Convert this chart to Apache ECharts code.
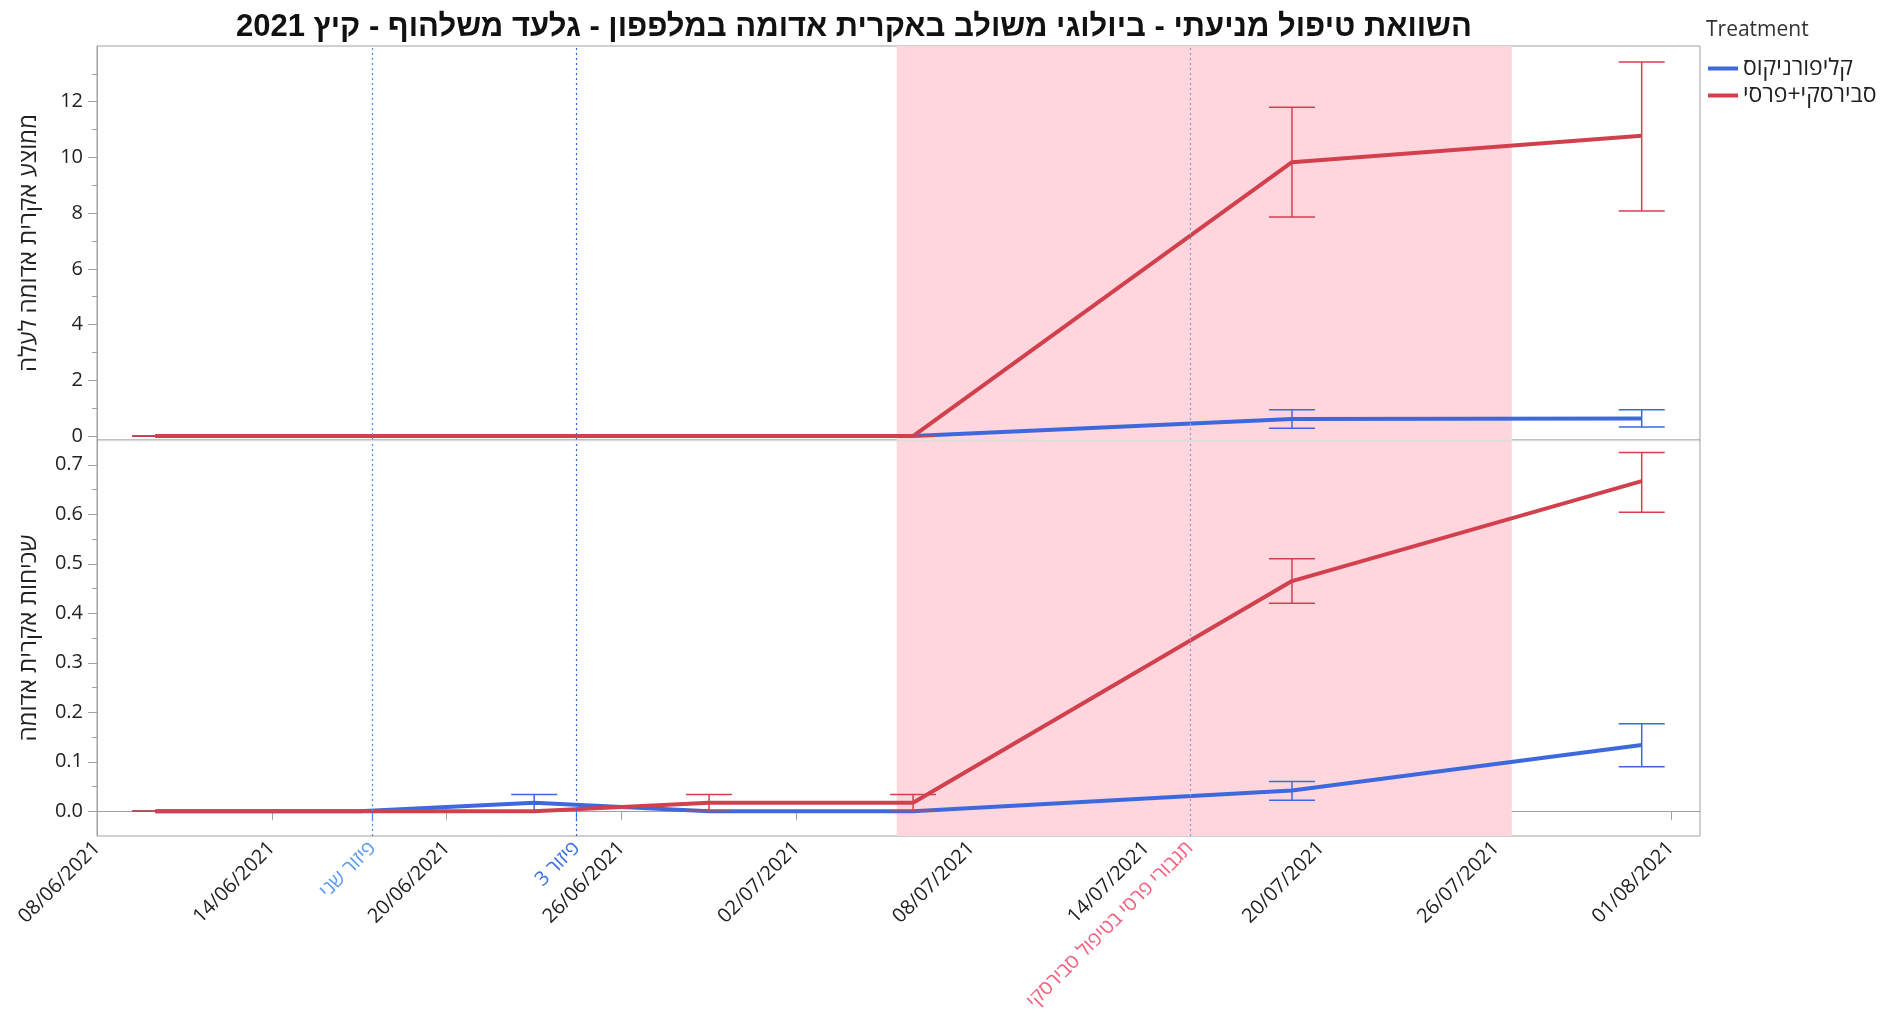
<!DOCTYPE html>
<html>
<head>
<meta charset="utf-8">
<title>אקרית אדומה במלפפון - קיץ 2021</title>
<script src="https://cdn.jsdelivr.net/npm/echarts@6/dist/echarts.min.js"></script>
<style>
  html, body { margin: 0; padding: 0; background: #fff; }
  #main { width: 1896px; height: 1036px; }
</style>
</head>
<body>
<div id="main"></div>
<script>
// נתונים - תאריכי דגימה וממוצעים (עם גבולות פסי השגיאה)
const sampleDates = ['2021-06-10', '2021-06-17', '2021-06-23', '2021-06-29', '2021-07-06', '2021-07-19', '2021-07-31'];
const treatments = ['קליפורניקוס', 'סבירסקי+פרסי'];

// ממוצע אקרית אדומה לעלה
const meanCalif   = [0, 0, 0, 0, 0, 0.61, 0.63];
const meanCalifLo = [0, 0, 0, 0, 0, 0.28, 0.32];
const meanCalifHi = [0, 0, 0, 0, 0, 0.94, 0.94];
const meanSwir    = [0, 0, 0, 0, 0, 9.83, 10.78];
const meanSwirLo  = [0, 0, 0, 0, 0, 7.86, 8.08];
const meanSwirHi  = [0, 0, 0, 0, 0, 11.8, 13.43];

// שכיחות אקרית אדומה
const incCalif   = [0, 0, 0.017, 0, 0, 0.042, 0.134];
const incCalifLo = [0, 0, 0, 0, 0, 0.022, 0.09];
const incCalifHi = [0, 0, 0.034, 0, 0, 0.06, 0.177];
const incSwir    = [0, 0, 0, 0.017, 0.017, 0.465, 0.667];
const incSwirLo  = [0, 0, 0, 0, 0, 0.42, 0.604];
const incSwirHi  = [0, 0, 0, 0.034, 0.034, 0.51, 0.725];

// קווי ייחוס ואזור מסומן
const refDates = ['2021-06-17T11:00', '2021-06-24T11:00', '2021-07-15T12:00'];
const refLabels = ['פיזור שני', 'פיזור 3', 'תגבורי פרסי בטיפול סבירסקי'];
const shadeRange = ['2021-07-05T10:30', '2021-07-26T13:00'];

// תוויות צירים
const xTickLabels = ['08/06/2021', '14/06/2021', '20/06/2021', '26/06/2021', '02/07/2021', '08/07/2021', '14/07/2021', '20/07/2021', '26/07/2021', '01/08/2021'];
const meanTicks = [0, 2, 4, 6, 8, 10, 12];
const meanMinor = [1, 3, 5, 7, 9, 11, 13];
const incTicks = [0, 0.1, 0.2, 0.3, 0.4, 0.5, 0.6, 0.7];
const incMinor = [0.05, 0.15, 0.25, 0.35, 0.45, 0.55, 0.65];

const t0 = Date.UTC(2021, 5, 8);
function dayOf(s) {
  let y, mo, d, h = 0, mi = 0;
  if (s.indexOf('/') >= 0) {
    [d, mo, y] = s.split('/').map(Number);
  } else {
    const m = s.match(/(\d+)-(\d+)-(\d+)(?:T(\d+):(\d+))?/);
    y = +m[1]; mo = +m[2]; d = +m[3]; h = +(m[4] || 0); mi = +(m[5] || 0);
  }
  return (Date.UTC(y, mo - 1, d, h, mi) - t0) / 864e5;
}

const sampleDays = sampleDates.map(dayOf);
const refDays = refDates.map(dayOf);
const xTickDays = xTickLabels.map(dayOf);

const BLUE = '#3d69dc';
const RED = '#d2404e';
const PINK = '#ffd6dd';
const refLineColors = ['#4d8ff2', '#2f63e3', '#8d9bd0'];
const refTextColors = ['#5a9cf2', '#3b6fe9', '#f2617d'];
const FONT = "'Open Sans', 'Liberation Sans', 'DejaVu Sans', sans-serif";
const AXIS_GRAY = '#a0a0a0';

function pairs(vals) {
  return sampleDays.map((d, i) => [d, vals[i]]);
}
function triples(lo, hi) {
  return sampleDays.map((d, i) => [d, lo[i], hi[i]]);
}
function nearestIdx(list, v) {
  let best = 0;
  list.forEach((x, i) => { if (Math.abs(x - v) < Math.abs(list[best] - v)) best = i; });
  return best;
}

function errorBar(color) {
  return function (params, api) {
    const x = api.value(0);
    const pLo = api.coord([x, api.value(1)]);
    const pHi = api.coord([x, api.value(2)]);
    const w = 23;
    const style = { stroke: color, lineWidth: 1.5 };
    return {
      type: 'group',
      children: [
        { type: 'line', shape: { x1: pHi[0], y1: pHi[1], x2: pLo[0], y2: pLo[1] }, style: style },
        { type: 'line', shape: { x1: pHi[0] - w, y1: pHi[1], x2: pHi[0] + w, y2: pHi[1] }, style: style },
        { type: 'line', shape: { x1: pLo[0] - w, y1: pLo[1], x2: pLo[0] + w, y2: pLo[1] }, style: style }
      ]
    };
  };
}

function panelSeries(g, califVals, califLo, califHi, swirVals, swirLo, swirHi) {
  return [
    {
      type: 'line', xAxisIndex: g, yAxisIndex: g, data: [], silent: true, z: 1,
      markArea: {
        silent: true,
        itemStyle: { color: PINK, opacity: 1 },
        data: [[{ xAxis: dayOf(shadeRange[0]) }, { xAxis: dayOf(shadeRange[1]) }]]
      }
    },
    {
      type: 'line', xAxisIndex: g, yAxisIndex: g, data: [], silent: true, z: 2,
      markLine: {
        silent: true,
        symbol: ['none', 'none'],
        label: { show: false },
        lineStyle: { type: [2, 3], width: 1.2 },
        data: refDays.map((d, i) => ({ xAxis: d, lineStyle: { color: refLineColors[i] } }))
      }
    },
    {
      name: treatments[0], type: 'line', xAxisIndex: g, yAxisIndex: g, z: 3,
      data: pairs(califVals), showSymbol: false,
      lineStyle: { color: BLUE, width: 4 }, itemStyle: { color: BLUE }
    },
    {
      name: treatments[0], type: 'custom', xAxisIndex: g, yAxisIndex: g, z: 3,
      data: triples(califLo, califHi), encode: { x: 0, y: [1, 2] },
      renderItem: errorBar(BLUE), itemStyle: { color: BLUE }
    },
    {
      name: treatments[1], type: 'line', xAxisIndex: g, yAxisIndex: g, z: 4,
      data: pairs(swirVals), showSymbol: false,
      lineStyle: { color: RED, width: 4 }, itemStyle: { color: RED }
    },
    {
      name: treatments[1], type: 'custom', xAxisIndex: g, yAxisIndex: g, z: 4,
      data: triples(swirLo, swirHi), encode: { x: 0, y: [1, 2] },
      renderItem: errorBar(RED), itemStyle: { color: RED }
    }
  ];
}

const chart = echarts.init(document.getElementById('main'));

const option = {
  animation: false,
  backgroundColor: '#fff',
  textStyle: { fontFamily: FONT },
  grid: [
    { left: 97, top: 46, width: 1603, height: 394, show: true, borderColor: AXIS_GRAY, borderWidth: 1 },
    { left: 97, top: 440, width: 1603, height: 396, show: true, borderColor: AXIS_GRAY, borderWidth: 1 }
  ],
  legend: {
    orient: 'vertical',
    left: 1708,
    top: 57,
    padding: 0,
    itemWidth: 30,
    itemHeight: 4,
    itemGap: 4,
    selectedMode: false,
    textStyle: { fontSize: 23, color: '#222', fontFamily: FONT },
    data: [
      { name: treatments[0], icon: 'rect', itemStyle: { color: BLUE } },
      { name: treatments[1], icon: 'rect', itemStyle: { color: RED } }
    ]
  },
  xAxis: [
    {
      gridIndex: 0, type: 'value', min: 0, max: 55, position: 'bottom',
      axisLine: { show: false }, axisTick: { show: false },
      axisLabel: { show: false }, splitLine: { show: false }
    },
    {
      gridIndex: 1, type: 'value', min: 0, max: 55, position: 'bottom',
      axisLine: { show: true, lineStyle: { color: AXIS_GRAY } },
      axisTick: { show: true, customValues: xTickDays, length: 9, lineStyle: { color: AXIS_GRAY } },
      axisLabel: {
        customValues: xTickDays, rotate: 45, margin: 9, fontSize: 20, color: '#222',
        fontFamily: FONT,
        formatter: v => xTickLabels[nearestIdx(xTickDays, v)]
      },
      splitLine: { show: false }
    },
    {
      gridIndex: 1, type: 'value', min: 0, max: 55, position: 'bottom', offset: 0,
      axisLine: { show: false },
      axisTick: { show: true, customValues: refDays, length: 10, lineStyle: { color: '#4a86e8', width: 1.2 } },
      axisLabel: {
        customValues: refDays, rotate: 45, margin: 9, fontSize: 20, fontFamily: FONT,
        formatter: v => refLabels[nearestIdx(refDays, v)],
        color: v => refTextColors[nearestIdx(refDays, +v)]
      },
      splitLine: { show: false }
    }
  ],
  yAxis: [
    {
      gridIndex: 0, type: 'value', min: -0.143, max: 14, position: 'left',
      name: 'ממוצע אקרית אדומה לעלה', nameLocation: 'middle', nameRotate: 90, nameGap: 56,
      nameTextStyle: { fontSize: 24, color: '#222', fontFamily: FONT },
      axisLine: { show: true, lineStyle: { color: AXIS_GRAY } },
      axisTick: { show: true, customValues: meanTicks, length: 9, lineStyle: { color: AXIS_GRAY } },
      axisLabel: { customValues: meanTicks, margin: 14, fontSize: 20, color: '#222', fontFamily: FONT },
      splitLine: { show: false }
    },
    {
      gridIndex: 1, type: 'value', min: -0.05, max: 0.75, position: 'left',
      name: 'שכיחות אקרית אדומה', nameLocation: 'middle', nameRotate: 90, nameGap: 56,
      nameTextStyle: { fontSize: 24, color: '#222', fontFamily: FONT },
      axisLine: { show: true, lineStyle: { color: AXIS_GRAY } },
      axisTick: { show: true, customValues: incTicks, length: 9, lineStyle: { color: AXIS_GRAY } },
      axisLabel: {
        customValues: incTicks, margin: 14, fontSize: 20, color: '#222', fontFamily: FONT,
        formatter: v => Number(v).toFixed(1)
      },
      splitLine: { show: false }
    },
    {
      gridIndex: 0, type: 'value', min: -0.143, max: 14, position: 'left', offset: 0,
      axisLine: { show: false },
      axisTick: { show: true, customValues: meanMinor, length: 5, lineStyle: { color: AXIS_GRAY } },
      axisLabel: { show: false }, splitLine: { show: false }
    },
    {
      gridIndex: 1, type: 'value', min: -0.05, max: 0.75, position: 'left', offset: 0,
      axisLine: { show: false },
      axisTick: { show: true, customValues: incMinor, length: 5, lineStyle: { color: AXIS_GRAY } },
      axisLabel: { show: false }, splitLine: { show: false }
    }
  ],
  graphic: [
    {
      type: 'text', x: 854, y: 27, z: 10,
      style: {
        text: 'השוואת טיפול מניעתי - ביולוגי משולב באקרית אדומה במלפפון - גלעד משלהוף - קיץ 2021',
        font: "bold 31px 'Liberation Sans', 'DejaVu Sans', sans-serif",
        fill: '#111', textAlign: 'center', textVerticalAlign: 'middle'
      }
    },
    {
      type: 'text', x: 1706, y: 30, z: 10,
      style: {
        text: 'Treatment', font: "21px " + FONT, fill: '#333',
        textAlign: 'left', textVerticalAlign: 'middle'
      }
    },
    {
      type: 'line', z: 10, silent: true,
      shape: { x1: 98, y1: 440.5, x2: 1699, y2: 440.5 },
      style: { stroke: '#dcdcdc', lineWidth: 1.5 }
    }
  ],
  series: [].concat(
    panelSeries(0, meanCalif, meanCalifLo, meanCalifHi, meanSwir, meanSwirLo, meanSwirHi),
    panelSeries(1, incCalif, incCalifLo, incCalifHi, incSwir, incSwirLo, incSwirHi)
  )
};

chart.setOption(option);
</script>
</body>
</html>
